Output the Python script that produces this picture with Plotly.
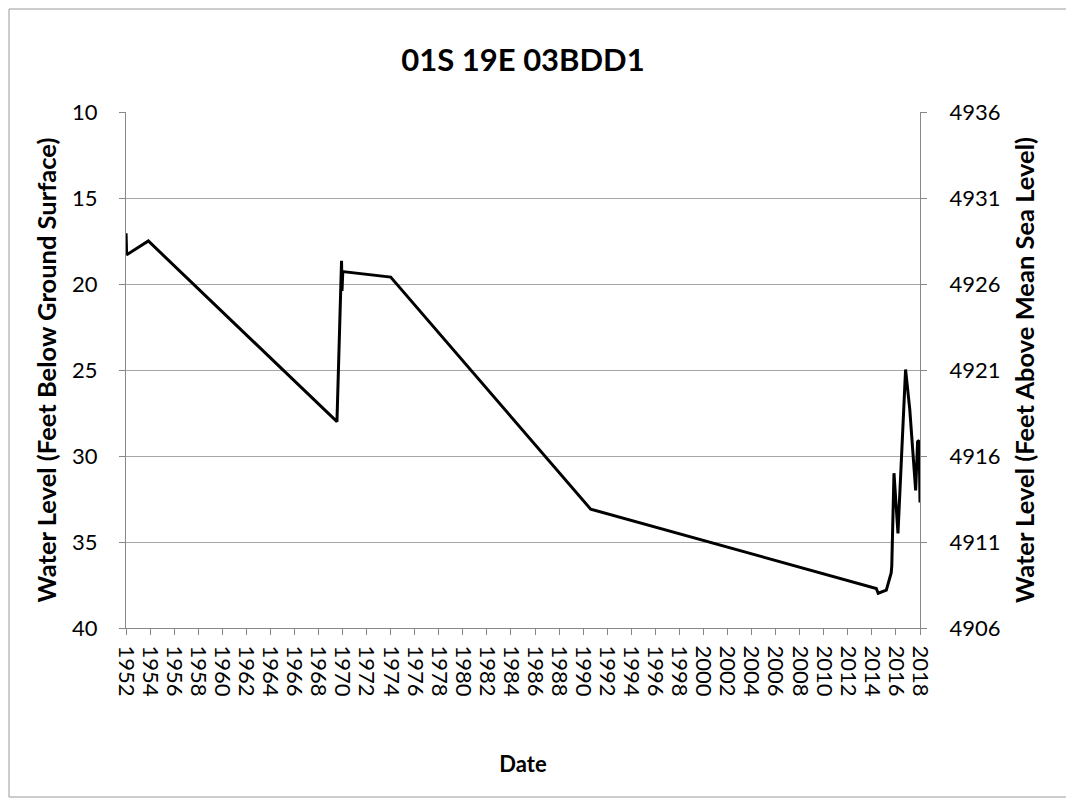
import plotly.graph_objects as go

dates = [
    "1952-01-03", "1952-01-20", "1953-11-10", "1969-07-15", "1969-12-01",
    "1969-12-15", "1970-01-08", "1974-01-01", "1990-08-18", "2014-05-15",
    "2014-07-12", "2015-03-15", "2015-08-10", "2015-08-28", "2015-11-03",
    "2016-03-03", "2016-10-20", "2017-02-25", "2017-08-22", "2017-10-20",
    "2017-12-05", "2018-01-01",
]
depth_ft = [
    17.05, 18.3, 17.5, 28.0, 18.65,
    20.4, 19.28, 19.6, 33.09, 37.7,
    37.98, 37.8, 36.8, 36.4, 31.0,
    34.5, 24.97, 27.3, 32.0, 29.17,
    29.1, 32.7,
]
land_surface_elev = 4946
elevation_ft = [land_surface_elev - d for d in depth_ft]

left_ticks = [10, 15, 20, 25, 30, 35, 40]
right_ticks = [4936, 4931, 4926, 4921, 4916, 4911, 4906]
year_ticks = list(range(1952, 2019, 2))

FONT = "Lato, Carlito, Calibri, sans-serif"
AX = "#888888"

fig = go.Figure()
fig.add_trace(go.Scatter(
    x=dates, y=depth_ft, mode="lines",
    line=dict(color="black", width=3), showlegend=False,
))
fig.add_trace(go.Scatter(
    x=dates, y=elevation_ft, mode="lines", yaxis="y2",
    line=dict(color="rgba(0,0,0,0)", width=0), showlegend=False,
    hoverinfo="skip",
))

fig.update_layout(
    width=1074, height=803,
    paper_bgcolor="white", plot_bgcolor="white",
    margin=dict(l=118, r=162, t=104, b=183),
    font=dict(family=FONT, color="black", size=22),
    title=dict(text="<b>01S 19E 03BDD1</b>", x=0.5, xref="paper",
               y=1 - 52 / 803, yanchor="middle",
               font=dict(size=31, family=FONT)),
    xaxis=dict(
        type="date",
        range=["1952-01-01", "2018-01-01"],
        tickvals=[f"{y}-01-01" for y in year_ticks],
        ticktext=[str(y) for y in year_ticks],
        tickangle=90,
        ticks="outside", ticklen=6, tickcolor=AX,
        ticklabelstandoff=6,
        showline=True, linecolor=AX, linewidth=1,
        showgrid=False, zeroline=False,
        tickfont=dict(size=22),
        title=dict(text="<b>Date</b>", font=dict(size=22), standoff=60),
    ),
    yaxis=dict(
        range=[40, 10],
        tickvals=left_ticks,
        ticks="outside", ticklen=6, tickcolor=AX,
        ticklabelstandoff=17,
        showline=True, linecolor=AX, linewidth=1,
        showgrid=True, gridcolor="#a6a6a6", gridwidth=1,
        zeroline=False,
        tickfont=dict(size=22),
        title=dict(text="<b>Water Level (Feet Below Ground Surface)</b>",
                   font=dict(size=25.5), standoff=8),
    ),
    yaxis2=dict(
        range=[4906, 4936],
        tickvals=right_ticks,
        overlaying="y", side="right",
        ticks="outside", ticklen=6, tickcolor=AX,
        ticklabelstandoff=18,
        showline=True, linecolor=AX, linewidth=1,
        showgrid=False, zeroline=False,
        tickfont=dict(size=22),
        title=dict(text="<b>Water Level (Feet Above Mean Sea Level)</b>",
                   font=dict(size=25.5), standoff=16),
    ),
    shapes=[dict(
        type="rect", xref="paper", yref="paper",
        x0=(9 - 126) / 794, x1=(1068 - 126) / 794,
        y0=(628 - 797) / 516, y1=(628 - 9) / 516,
        line=dict(color="#9a9a9a", width=1), fillcolor="rgba(0,0,0,0)",
        layer="below",
    )],
)

fig.write_html("out.html")
